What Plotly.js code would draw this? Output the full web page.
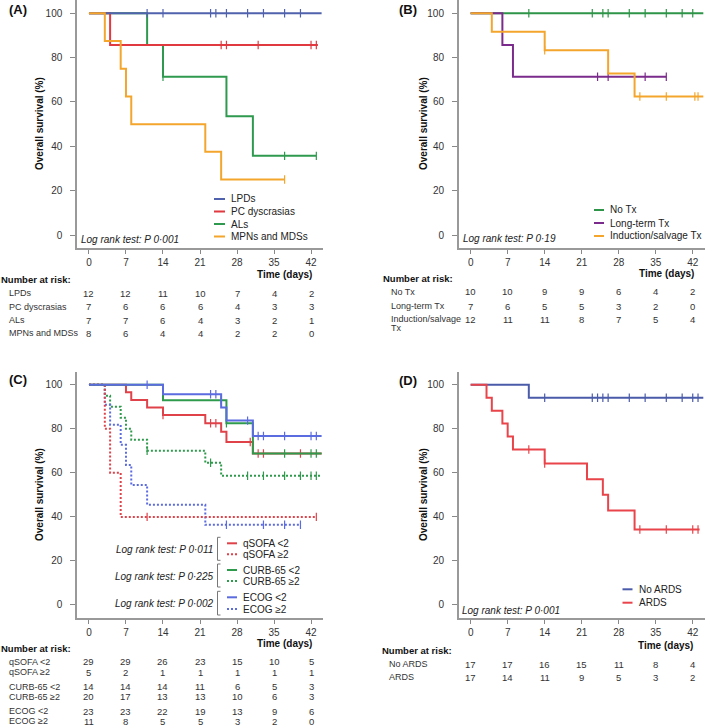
<!DOCTYPE html>
<html><head><meta charset="utf-8">
<script src="https://cdn.plot.ly/plotly-3.0.1.min.js"></script>
<style>html,body{margin:0;padding:0;background:#fff}</style>
</head><body><div id="chart" style="width:709px;height:728px"></div>
<script>
// ---------------- DATA ----------------
const dayTicks = [0, 7, 14, 21, 28, 35, 42];
const survTicks = [0, 20, 40, 60, 80, 100];

// Panel A
const aLabels = ["LPDs", "PC dyscrasias", "ALs", "MPNs and MDSs"];
const aLPDsT = [0, 44], aLPDsS = [100, 100], aLPDsC = [11, 14, 23, 24, 26, 30, 33, 37, 40];
const aPCT = [0, 4, 43.3], aPCS = [100, 85.7, 85.7], aPCC = [25, 26, 32, 42, 43];
const aALsT = [0, 11, 14, 26, 31, 43], aALsS = [100, 85.7, 71.4, 53.6, 35.7, 35.7], aALsC = [14, 37, 43];
const aMPNT = [0, 3, 6, 7, 8, 22, 25, 37], aMPNS = [100, 87.5, 75, 62.5, 50, 37.5, 25, 25], aMPNC = [37];
const aRiskLPDs = [12, 12, 11, 10, 7, 4, 2];
const aRiskPC = [7, 6, 6, 6, 4, 3, 3];
const aRiskALs = [7, 7, 6, 4, 3, 2, 1];
const aRiskMPN = [8, 6, 4, 4, 2, 2, 0];
const aLogRank = "Log rank test: P 0·001";

// Panel B
const bLabels = ["No Tx", "Long-term Tx", "Induction/salvage Tx"];
const bNoT = [0, 44], bNoS = [100, 100], bNoC = [11, 23, 25, 26, 30, 33, 37, 40, 42];
const bLongT = [0, 6, 8, 37], bLongS = [100, 85.7, 71.4, 71.4], bLongC = [24, 26, 33, 37];
const bIndT = [0, 4, 14, 26, 31, 44], bIndS = [100, 91.7, 83.3, 72.9, 62.5, 62.5], bIndC = [14, 32, 37, 42.4, 43];
const bRiskNo = [10, 10, 9, 9, 6, 4, 2];
const bRiskLong = [7, 6, 5, 5, 3, 2, 0];
const bRiskInd = [12, 11, 11, 8, 7, 5, 4];
const bLogRank = "Log rank test: P 0·19";

// Panel C
const cLabels = ["qSOFA <2", "qSOFA ≥2", "CURB-65 <2", "CURB-65 ≥2", "ECOG <2", "ECOG ≥2"];
const cQlT = [0, 7, 8, 11, 14, 22, 25, 26, 31, 44], cQlS = [100, 96.6, 93.1, 89.7, 86.2, 82.5, 78.6, 74.0, 68.8, 68.8], cQlC = [14, 23, 24, 30.5, 32, 33, 40];
const cQhT = [0, 3, 4, 6, 43], cQhS = [100, 80, 60, 40, 40], cQhC = [11, 43];
const cClT = [0, 14, 26, 31, 44], cClS = [100, 92.9, 82.5, 68.8, 68.8], cClC = [25, 26, 37, 42, 43];
const cChT = [0, 3, 4, 6, 7, 8, 11, 22, 25, 44], cChS = [100, 95, 90, 85, 80, 75, 70, 64.6, 58.7, 58.7], cChC = [11, 23, 30, 33, 37, 40, 42, 43];
const cElT = [0, 14, 25, 26, 31, 44], cElS = [100, 95.7, 89.7, 83.7, 76.7, 76.7], cElC = [11, 23, 24, 30, 32, 33, 37, 42, 43];
const cEhT = [0, 3, 4, 6, 7, 8, 11, 22, 40], cEhS = [100, 90.9, 81.8, 72.7, 63.6, 54.5, 45.5, 36.4, 36.4], cEhC = [26, 33, 37, 40];
const cRiskQl = [29, 29, 26, 23, 15, 10, 5];
const cRiskQh = [5, 2, 1, 1, 1, 1, 1];
const cRiskCl = [14, 14, 14, 11, 6, 5, 3];
const cRiskCh = [20, 17, 13, 13, 10, 6, 3];
const cRiskEl = [23, 23, 22, 19, 13, 9, 6];
const cRiskEh = [11, 8, 5, 5, 3, 2, 0];
const cLogRanks = ["Log rank test: P 0·011", "Log rank test: P 0·225", "Log rank test: P 0·002"];

// Panel D
const dLabels = ["No ARDS", "ARDS"];
const dNoT = [0, 11, 44], dNoS = [100, 94.1, 94.1], dNoC = [14, 23, 24, 25, 26, 30, 33, 37, 40, 42, 43];
const dArT = [0, 3, 4, 6, 7, 8, 14, 22, 25, 26, 31, 43.3], dArS = [100, 94.1, 88.2, 82.4, 76.5, 70.6, 64.2, 57.1, 50, 42.9, 34.3, 34.3], dArC = [11, 14, 32, 37, 42, 43];
const dRiskNo = [17, 17, 16, 15, 11, 8, 4];
const dRiskAr = [17, 14, 11, 9, 5, 3, 2];
const dLogRank = "Log rank test: P 0·001";

// ---------------- BUILD ----------------
const W = 709, H = 728;
const F = "Liberation Sans, Arial, sans-serif";
const px = x => x / W, py = y => 1 - y / H;
const traces = [], annotations = [], shapes = [];
const ROWFONT = {size: 9, color: '#333', family: F};

function stepAt(t, s, c) { let v = s[0]; for (let i = 0; i < t.length; i++) if (t[i] <= c) v = s[i]; return v; }
function km(t, s, c, color, dash, ax) {
  traces.push({x: t, y: s, type: 'scatter', mode: 'lines', line: {shape: 'hv', color: color, width: 2, dash: dash || 'solid'},
    xaxis: 'x' + ax, yaxis: 'y' + ax, showlegend: false, hoverinfo: 'skip'});
  traces.push({x: c, y: c.map(v => stepAt(t, s, v)), type: 'scatter', mode: 'markers',
    marker: {symbol: 'line-ns', size: 6, color: color, line: {color: color, width: 1.2}},
    xaxis: 'x' + ax, yaxis: 'y' + ax, showlegend: false, hoverinfo: 'skip'});
}
function txt(x, y, text, o) {
  annotations.push(Object.assign({xref: 'paper', yref: 'paper', x: px(x), y: py(y), text: text, showarrow: false,
    xanchor: 'left', yanchor: 'middle', borderpad: 0, font: {size: 10, color: '#222', family: F}}, o || {}));
}
function legLine(x0, x1, y, color, dash) {
  shapes.push({type: 'line', xref: 'paper', yref: 'paper', x0: px(x0), x1: px(x1), y0: py(y), y1: py(y), line: {color: color, width: 2, dash: dash || 'solid'}});
}
function riskRow(ax, y, vals) {
  vals.forEach((v, i) => annotations.push({xref: 'x' + (ax === 1 ? '' : ax), yref: 'paper', x: dayTicks[i], y: py(y), text: String(v),
    showarrow: false, xanchor: 'center', yanchor: 'middle', borderpad: 0, font: {size: 9.5, color: '#333', family: F}}));
}

// colors
const A_BLUE = '#5062ad', A_RED = '#e0393f', A_GREEN = '#2f9a4f', A_ORANGE = '#f4a52c';
const B_GREEN = '#2e9448', B_PURPLE = '#7b2b8b', B_ORANGE = '#f4a52c';
const C_RED = '#e0424a', C_GREEN = '#2e9a4c', C_BLUE = '#5b6be0';
const D_BLUE = '#4a5baa', D_RED = '#e8444a';
const DOT = '2px,2px';

// A
km(aALsT, aALsS, aALsC, A_GREEN, null, '');
km(aPCT, aPCS, aPCC, A_RED, null, '');
km(aLPDsT, aLPDsS, aLPDsC, A_BLUE, null, '');
km(aMPNT, aMPNS, aMPNC, A_ORANGE, null, '');
// B
km(bNoT, bNoS, bNoC, B_GREEN, null, '2');
km(bLongT, bLongS, bLongC, B_PURPLE, null, '2');
km(bIndT, bIndS, bIndC, B_ORANGE, null, '2');
// C
km(cChT, cChS, cChC, C_GREEN, DOT, '3');
km(cEhT, cEhS, cEhC, C_BLUE, DOT, '3');
km(cQhT, cQhS, cQhC, C_RED, DOT, '3');
km(cQlT, cQlS, cQlC, C_RED, null, '3');
km(cClT, cClS, cClC, C_GREEN, null, '3');
km(cElT, cElS, cElC, C_BLUE, null, '3');
// D
km(dNoT, dNoS, dNoC, D_BLUE, null, '4');
km(dArT, dArS, dArC, D_RED, null, '4');

// axes
const xdomL = [76.8 / W, 323.2 / W], xdomR = [458.5 / W, 704.9 / W];
const ydomT = [1 - 248.3 / H, 1], ydomB = [1 - 618.2 / H, 1 - 371.5 / H];
function xax(dom, anchor) {
  return {domain: dom, anchor: anchor, range: [-2.3, 44.3], tickvals: dayTicks, ticktext: dayTicks.map(String), ticks: 'outside', ticklen: 4,
    tickwidth: 1, tickcolor: '#888', showline: true, linecolor: '#999', linewidth: 1.5, showgrid: false, zeroline: false,
    tickfont: {size: 10, color: '#333', family: F}, fixedrange: true};
}
function yax(dom, anchor) {
  return {domain: dom, anchor: anchor, range: [-6, 106], tickvals: survTicks, ticktext: survTicks.map(String), ticks: 'outside', ticklen: 5,
    tickwidth: 1, tickcolor: '#888', showline: true, linecolor: '#999', linewidth: 1.5, showgrid: false, zeroline: false,
    ticklabelstandoff: 6, tickfont: {size: 10, color: '#333', family: F}, fixedrange: true};
}

// panel labels & axis titles
[['(A)', 18, 10], ['(B)', 408, 10], ['(C)', 18, 379], ['(D)', 408, 380]].forEach(p =>
  txt(p[1], p[2], '<b>' + p[0] + '</b>', {xanchor: 'center', font: {size: 13, color: '#111', family: F}}));
[[39, 124], [423, 124], [39, 495], [423, 495]].forEach(p =>
  txt(p[0], p[1], '<b>Overall survival (%)</b>', {xanchor: 'center', textangle: -90, font: {size: 10, color: '#111', family: F}}));
[[313, 274], [695, 273.5], [313, 643.5], [694, 645]].forEach(p =>
  txt(p[0], p[1], '<b>Time (days)</b>', {xanchor: 'right', font: {size: 10, color: '#111', family: F}}));
[[0, 279], [382, 278], [0, 648.5], [381, 650]].forEach(p =>
  txt(p[0], p[1], '<b>Number at risk:</b>', {font: {size: 9.5, color: '#111', family: F}}));

const ital = s => '<i>' + s + '</i>';
// A legend & log rank
txt(80, 240, ital(aLogRank));
[A_BLUE, A_RED, A_GREEN, A_ORANGE].forEach((c, i) => { const y = [199, 211.5, 224, 236.5][i]; legLine(214, 225, y, c); txt(230, y, aLabels[i]); });
// A risk
[aRiskLPDs, aRiskPC, aRiskALs, aRiskMPN].forEach((r, i) => { const y = [293.3, 306.7, 320, 333.3][i]; txt(8, y, aLabels[i], {font: ROWFONT}); riskRow(1, y, r); });

// B legend & log rank
txt(462, 238.5, ital(bLogRank));
[B_GREEN, B_PURPLE, B_ORANGE].forEach((c, i) => { const y = [210, 223, 236][i]; legLine(594, 604, y, c); txt(609, y, bLabels[i]); });
// B risk
txt(390, 291.7, bLabels[0], {font: ROWFONT}); riskRow(2, 291.7, bRiskNo);
txt(390, 306, bLabels[1], {font: ROWFONT}); riskRow(2, 306, bRiskLong);
txt(390, 319.3, 'Induction/salvage', {font: ROWFONT}); riskRow(2, 319.3, bRiskInd);
txt(390, 328.5, 'Tx', {font: ROWFONT});

// C legend
const cPairs = [[543.3, 554.3, C_RED], [570, 581, C_GREEN], [597.3, 609, C_BLUE]];
cPairs.forEach((p, k) => {
  txt(214, (p[0] + p[1]) / 2 + 0.5, ital(cLogRanks[k]), {xanchor: 'right'});
  shapes.push({type: 'path', xref: 'paper', yref: 'paper',
    path: `M ${px(220.5)},${py(p[0] - 6)} L ${px(217.5)},${py(p[0] - 6)} L ${px(217.5)},${py(p[1] + 6)} L ${px(220.5)},${py(p[1] + 6)}`,
    line: {color: '#777', width: 1}});
  legLine(227, 237, p[0], p[2]); txt(242, p[0], cLabels[2 * k]);
  legLine(227, 237, p[1], p[2], DOT); txt(242, p[1], cLabels[2 * k + 1]);
});
// C risk
[cRiskQl, cRiskQh, cRiskCl, cRiskCh, cRiskEl, cRiskEh].forEach((r, i) => { const y = [661.7, 672.3, 686.7, 696.7, 711, 721][i]; txt(8, y, cLabels[i], {font: ROWFONT}); riskRow(3, y, r); });

// D legend & log rank
txt(461, 610, ital(dLogRank));
[D_BLUE, D_RED].forEach((c, i) => { const y = [589.3, 602.7][i]; legLine(622.5, 632.5, y, c); txt(637.5, y, dLabels[i]); });
[dRiskNo, dRiskAr].forEach((r, i) => { const y = [664, 677.3][i]; txt(388, y, dLabels[i], {font: ROWFONT}); riskRow(4, y, r); });

const layout = {
  width: W, height: H, margin: {l: 0, r: 0, t: 0, b: 0}, paper_bgcolor: '#fff', plot_bgcolor: '#fff',
  font: {family: F, size: 10, color: '#333'}, showlegend: false,
  xaxis: xax(xdomL, 'y'), yaxis: yax(ydomT, 'x'),
  xaxis2: xax(xdomR, 'y2'), yaxis2: yax(ydomT, 'x2'),
  xaxis3: xax(xdomL, 'y3'), yaxis3: yax(ydomB, 'x3'),
  xaxis4: xax(xdomR, 'y4'), yaxis4: yax(ydomB, 'x4'),
  annotations: annotations, shapes: shapes
};
Plotly.newPlot('chart', traces, layout, {displayModeBar: false, staticPlot: true});
</script></body></html>
